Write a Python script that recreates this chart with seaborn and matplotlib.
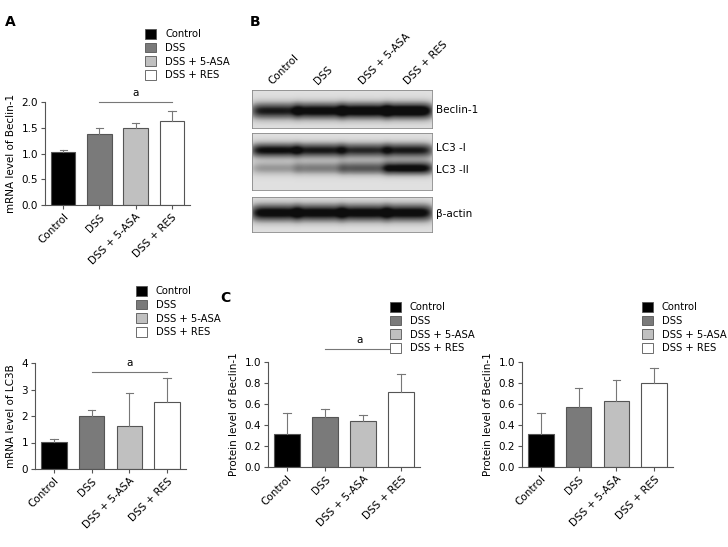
import matplotlib
matplotlib.use('Agg')
import numpy as np
import pandas as pd
import matplotlib.pyplot as plt
import seaborn as sns
from matplotlib.patches import Patch

groups = ['Control', 'DSS', 'DSS + 5-ASA', 'DSS + RES']
colors = ['#000000', '#7a7a7a', '#c0c0c0', '#ffffff']

beclin_mrna = [1.02, 1.38, 1.50, 1.64]
beclin_mrna_top = [1.07, 1.50, 1.59, 1.83]
lc3b_mrna = [1.03, 2.00, 1.62, 2.52]
lc3b_mrna_top = [1.13, 2.23, 2.88, 3.42]
beclin_prot = [0.31, 0.48, 0.44, 0.71]
beclin_prot_top = [0.51, 0.55, 0.50, 0.89]
beclin_prot2 = [0.31, 0.57, 0.63, 0.80]
beclin_prot2_top = [0.51, 0.75, 0.83, 0.94]

# blot band intensity per lane (Beclin-1, LC3-I, LC3-II, beta-actin)
band_beclin = [0.75, 0.85, 0.9, 0.95]
band_lc3i = [0.8, 0.75, 0.7, 0.75]
band_lc3ii = [0.3, 0.4, 0.55, 0.85]
band_actin = [0.85, 0.85, 0.85, 0.85]

plt.rcParams['font.family'] = 'DejaVu Sans'
fig = plt.figure(figsize=(7.28, 5.47), dpi=100)
W, H = 728, 547

def px_axes(x0, y0, x1, y1):
    return fig.add_axes([x0 / W, 1 - y1 / H, (x1 - x0) / W, (y1 - y0) / H])

def bar_panel(ax, vals, tops, ylim, yticks, ylabel, sig=None):
    df = pd.DataFrame({'group': groups, 'value': vals})
    sns.barplot(data=df, x='group', y='value', hue='group', palette=colors,
                edgecolor='#555555', linewidth=0.8, width=0.68, legend=False, ax=ax)
    for i, (v, t) in enumerate(zip(vals, tops)):
        ax.plot([i, i], [v, t], color='#777777', lw=0.8)
        ax.plot([i - 0.1, i + 0.1], [t, t], color='#777777', lw=0.8)
    ax.set_ylim(*ylim)
    ax.set_xlim(-0.5, 3.5)
    ax.set_yticks(yticks)
    ax.set_yticklabels([('%.1f' % y) if ylim[1] < 3 else ('%d' % y) for y in yticks], fontsize=7.5)
    ax.set_xticks(range(4))
    ax.set_xticklabels(groups, rotation=45, ha='right', rotation_mode='anchor', fontsize=7.5)
    ax.set_xlabel('')
    ax.set_ylabel(ylabel, fontsize=7.5)
    sns.despine(ax=ax)
    for s in ['left', 'bottom']:
        ax.spines[s].set_color('#555555')
        ax.spines[s].set_linewidth(0.8)
    ax.tick_params(length=3, width=0.8, color='#555555', pad=2)
    if sig is not None:
        y, x0, x1 = sig
        ax.plot([x0, x1], [y, y], color='#777777', lw=0.8, clip_on=False)
        ax.text((x0 + x1) / 2, y + (ylim[1] - ylim[0]) * 0.06, 'a', ha='center', fontsize=7.5)

def legend_at(x, y):
    handles = [Patch(facecolor=c, edgecolor='#555555', linewidth=0.6, label=g) for g, c in zip(groups, colors)]
    fig.legend(handles=handles, loc='upper left', bbox_to_anchor=(x / W, 1 - y / H), frameon=False,
               fontsize=7.2, handlelength=1.1, handleheight=1.1, labelspacing=0.35, handletextpad=0.9,
               borderaxespad=0, borderpad=0)

ax1 = px_axes(45, 102, 190, 205)
bar_panel(ax1, beclin_mrna, beclin_mrna_top, (0, 2.0), [0, 0.5, 1.0, 1.5, 2.0], 'mRNA level of Beclin-1',
          sig=(2.0, 1, 3))
legend_at(145, 29)

ax2 = px_axes(35, 363, 186, 469)
bar_panel(ax2, lc3b_mrna, lc3b_mrna_top, (0, 4), [0, 1, 2, 3, 4], 'mRNA level of LC3B', sig=(3.65, 1, 3))
legend_at(136, 286)

ax3 = px_axes(268, 362, 420, 467)
bar_panel(ax3, beclin_prot, beclin_prot_top, (0, 1.0), [0, 0.2, 0.4, 0.6, 0.8, 1.0],
          'Protein level of Beclin-1', sig=(1.12, 1, 2.8))
legend_at(390, 302)

ax4 = px_axes(522, 362, 673, 467)
bar_panel(ax4, beclin_prot2, beclin_prot2_top, (0, 1.0), [0, 0.2, 0.4, 0.6, 0.8, 1.0],
          'Protein level of Beclin-1')
legend_at(642, 302)

# western blot panel
def blot(y0, y1, rows):
    ax = px_axes(252, y0, 432, y1)
    n_y, n_x = 60, 240
    yy = np.linspace(0, 1, n_y)[:, None]
    xx = np.linspace(0, 4, n_x)[None, :]
    img = np.full((n_y, n_x), 0.22)
    for center, width, ints in rows:
        for lane, a in enumerate(ints):
            lx = np.exp(-((xx - (lane + 0.5)) / 0.55) ** 6)
            ly = np.exp(-((yy - center) / width) ** 2)
            img += a * lx * ly
    img = np.clip(img, 0, 1)
    ax.imshow(img, cmap='Greys', vmin=0, vmax=1.05, aspect='auto', interpolation='bilinear')
    ax.set_xticks([])
    ax.set_yticks([])
    for s in ax.spines.values():
        s.set_color('#888888')
        s.set_linewidth(0.6)
    return ax

blot(90, 128, [(0.55, 0.22, band_beclin)])
blot(133, 190, [(0.3, 0.13, band_lc3i), (0.62, 0.12, band_lc3ii)])
blot(197, 232, [(0.45, 0.25, band_actin)])

for i, g in enumerate(groups):
    fig.text((252 + 22 + i * 45) / W, 1 - 86 / H, g, rotation=45, ha='left', va='bottom',
             fontsize=7.5, rotation_mode='anchor')
fig.text(436 / W, 1 - 110 / H, 'Beclin-1', fontsize=7.5, va='center')
fig.text(436 / W, 1 - 148 / H, 'LC3 -I', fontsize=7.5, va='center')
fig.text(436 / W, 1 - 170 / H, 'LC3 -II', fontsize=7.5, va='center')
fig.text(436 / W, 1 - 214 / H, 'β-actin', fontsize=7.5, va='center')

fig.text(5 / W, 1 - 22 / H, 'A', fontsize=10, fontweight='bold', va='center')
fig.text(250 / W, 1 - 22 / H, 'B', fontsize=10, fontweight='bold', va='center')
fig.text(220 / W, 1 - 298 / H, 'C', fontsize=10, fontweight='bold', va='center')

fig.savefig('out.png', dpi=100)
